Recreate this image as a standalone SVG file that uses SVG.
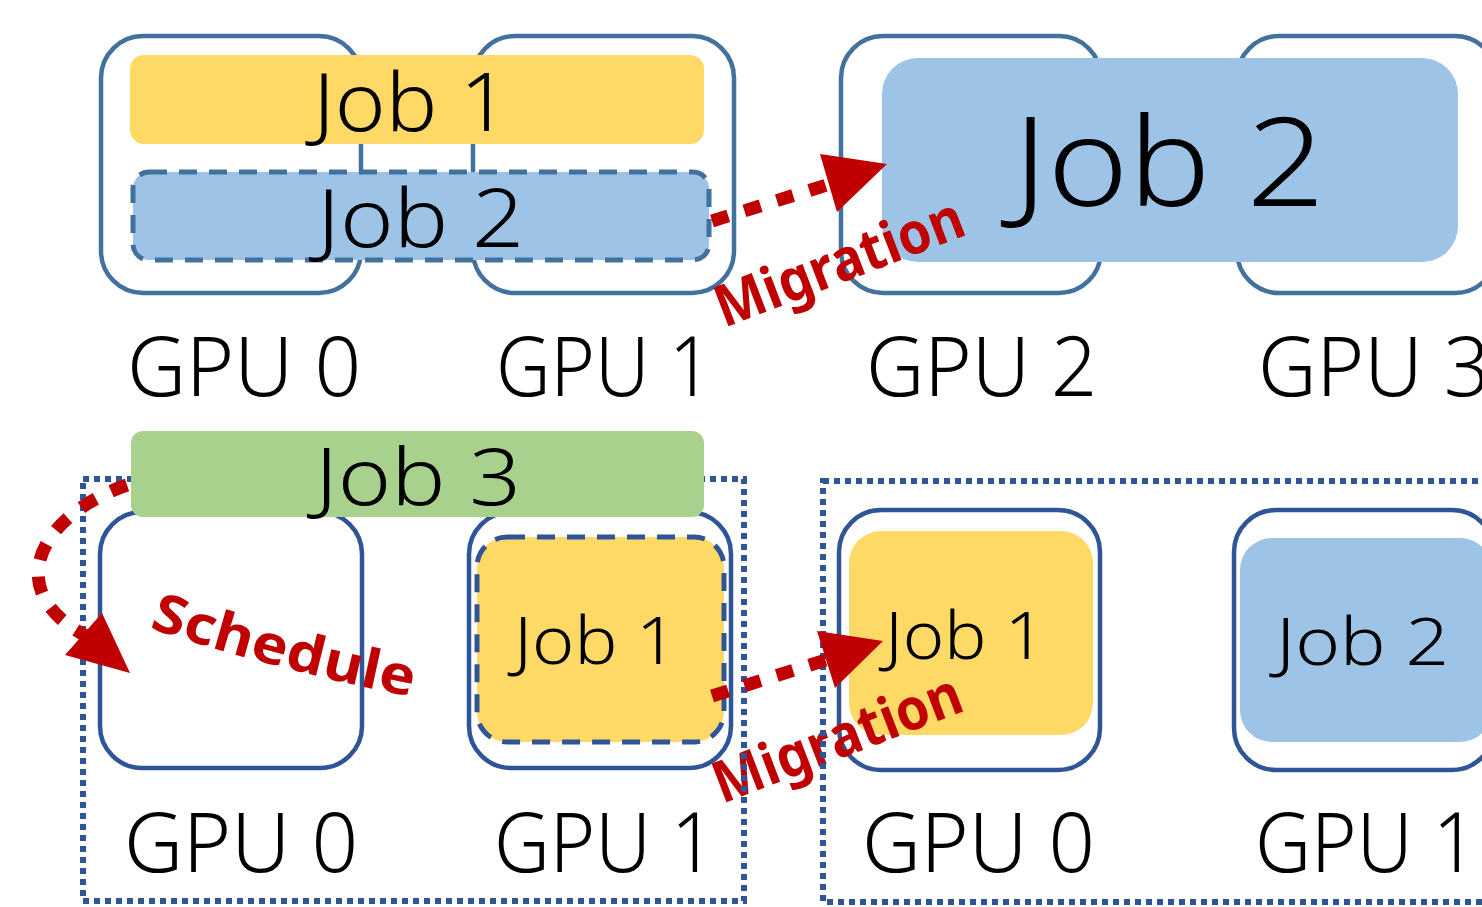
<svg xmlns="http://www.w3.org/2000/svg" width="1482" height="907" viewBox="0 0 1482 907">
<defs>
<style>
.gpuA{fill:#fff;stroke:#41719C;stroke-width:4.5}
.gpuB{fill:#fff;stroke:#2F5597;stroke-width:4.5}
.y{fill:#FFD966}
.b{fill:#9DC3E6}
.g{fill:#A9D18E}
.dashA{stroke:#41719C;stroke-width:5;stroke-dasharray:18 12}
.dashB{stroke:#2F5597;stroke-width:5;stroke-dasharray:18 12}
.cont{fill:none;stroke:#2F5597;stroke-width:6;stroke-dasharray:6 5}
.t{font-family:'Noto Sans','DejaVu Sans',sans-serif;font-weight:300;fill:#000}
.red{font-family:'Noto Sans','DejaVu Sans',sans-serif;font-weight:bold;fill:#C00000}
.dot{fill:none;stroke:#C00000;stroke-width:13;stroke-dasharray:17 17}
.head{fill:#C00000}
</style>
<path id="schedPath" d="M149,628 Q275,670 418,698"/>
</defs>
<rect width="1482" height="907" fill="#fff"/>

<g id="top-gpu0"><rect class="gpuA" x="101" y="36" width="260" height="257" rx="42"/><text class="t" x="127" y="396" font-size="82" textLength="234" lengthAdjust="spacingAndGlyphs">GPU 0</text></g>
<g id="top-gpu1"><rect class="gpuA" x="473" y="36" width="261" height="257" rx="42"/><text class="t" x="496" y="396" font-size="82" textLength="216" lengthAdjust="spacingAndGlyphs">GPU 1</text></g>
<g id="top-gpu2"><rect class="gpuA" x="841" y="36" width="260" height="257" rx="42"/><text class="t" x="866" y="396" font-size="82" textLength="231" lengthAdjust="spacingAndGlyphs">GPU 2</text></g>
<g id="top-gpu3"><rect class="gpuA" x="1237" y="36" width="260" height="257" rx="42"/><text class="t" x="1258" y="396" font-size="82" textLength="232" lengthAdjust="spacingAndGlyphs">GPU 3</text></g>

<g id="top-job1"><rect class="y" x="130" y="55" width="574" height="89" rx="14"/><text class="t" x="313" y="131" font-size="81" textLength="196" lengthAdjust="spacingAndGlyphs">Job 1</text></g>
<g id="top-job2"><rect class="b dashA" x="133" y="172" width="576" height="88" rx="16"/><text class="t" x="317" y="247" font-size="81" textLength="207" lengthAdjust="spacingAndGlyphs">Job 2</text></g>
<g id="top-job2-migrated"><rect class="b" x="882" y="58" width="576" height="204" rx="36"/><text class="t" x="1013" y="206" font-size="124" textLength="312" lengthAdjust="spacingAndGlyphs">Job 2</text></g>

<g id="bot-left-gpu0"><rect class="gpuB" x="100" y="512" width="262" height="256" rx="42"/><text class="t" x="124" y="872" font-size="82" textLength="234" lengthAdjust="spacingAndGlyphs">GPU 0</text></g>
<g id="bot-left-gpu1"><rect class="gpuB" x="469" y="512" width="262" height="256" rx="42"/><text class="t" x="494" y="872" font-size="82" textLength="221" lengthAdjust="spacingAndGlyphs">GPU 1</text></g>
<g id="bot-left-job1"><rect class="y dashB" x="477" y="537" width="247" height="205" rx="30"/><text class="t" x="514" y="664" font-size="67" textLength="163" lengthAdjust="spacingAndGlyphs">Job 1</text></g>

<g id="bot-right-gpu0"><rect class="gpuB" x="839" y="510" width="261" height="260" rx="42"/><rect class="y" x="849" y="531" width="244" height="204" rx="32"/><text class="t" x="862" y="872" font-size="82" textLength="233" lengthAdjust="spacingAndGlyphs">GPU 0</text></g>
<g id="bot-right-job1"><text class="t" x="885" y="659" font-size="67" textLength="160" lengthAdjust="spacingAndGlyphs">Job 1</text></g>
<g id="bot-right-gpu1"><rect class="gpuB" x="1234" y="510" width="260" height="260" rx="42"/><rect class="b" x="1240" y="538" width="252" height="204" rx="32"/><text class="t" x="1276" y="665" font-size="67" textLength="173" lengthAdjust="spacingAndGlyphs">Job 2</text><text class="t" x="1255" y="872" font-size="82" textLength="222" lengthAdjust="spacingAndGlyphs">GPU 1</text></g>

<g id="labels">
<text class="red" x="724" y="328" font-size="58" textLength="262" lengthAdjust="spacingAndGlyphs" transform="rotate(-21 724 328)">Migration</text>
<text class="red" x="722" y="804" font-size="58" textLength="262" lengthAdjust="spacingAndGlyphs" transform="rotate(-21 722 804)">Migration</text>
<text class="red" font-size="54"><textPath href="#schedPath" textLength="272" lengthAdjust="spacingAndGlyphs">Schedule</textPath></text>
</g>

<g id="containers">
<rect class="cont" x="83" y="479" width="661" height="422"/>
<rect class="cont" x="823" y="481" width="680" height="421"/>
</g>

<g id="bot-job3"><rect class="g" x="131" y="431" width="573" height="86" rx="12"/><text class="t" x="315" y="505" font-size="80" textLength="206" lengthAdjust="spacingAndGlyphs">Job 3</text></g>

<g id="connectors">
<path class="dot" d="M712,221 L830,184"/>
<polygon class="head" points="820,154 887,164 837,212"/>
<path class="dot" d="M712,696 L826,660"/>
<polygon class="head" points="817,631 883,641 835,688"/>
<path class="dot" d="M127,485 C40,515 0,590 86,636"/>
<polygon class="head" points="102,613 65,655 130,673"/>
</g>
</svg>
